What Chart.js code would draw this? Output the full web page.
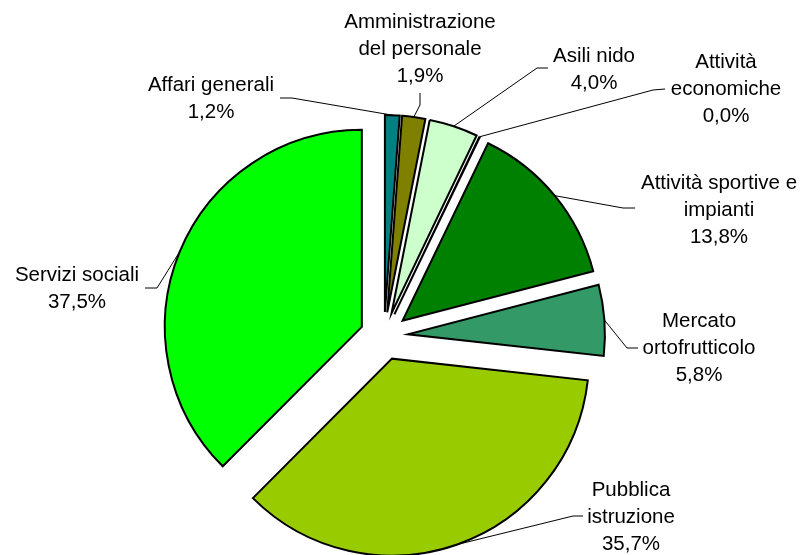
<!DOCTYPE html>
<html>
<head>
<meta charset="utf-8">
<script src="https://cdn.jsdelivr.net/npm/chart.js@4"></script>
<style>
  html, body { margin: 0; padding: 0; background: #fff; }
  #wrap { width: 805px; height: 555px; position: relative; }
</style>
</head>
<body>
<div id="wrap"><canvas id="pieChart" width="805" height="555"></canvas></div>
<script>
// dati (percentuali)
const categories = [
    'Affari generali',
    'Amministrazione del personale',
    'Asili nido',
    'Attività economiche',
    'Attività sportive e impianti',
    'Mercato ortofrutticolo',
    'Pubblica istruzione',
    'Servizi sociali'
];
const values = [1.2, 1.9, 4.0, 0.04, 13.8, 5.8, 35.7, 37.5];

// righe delle etichette, come appaiono nel grafico
const labelLines = [
    ['Affari generali'],
    ['Amministrazione', 'del personale'],
    ['Asili nido'],
    ['Attività', 'economiche'],
    ['Attività sportive e', 'impianti'],
    ['Mercato', 'ortofrutticolo'],
    ['Pubblica', 'istruzione'],
    ['Servizi sociali']
];

const colors = ['#008080', '#808000', '#CCFFCC', '#CCFFFF', '#008000', '#339966', '#99CC00', '#00FF00'];

// posizione etichette: centro testo x, baseline prima riga, gomito e fine della linea guida
const labelLayout = [
    { x: 211, y: 91,  elbow: [292, 98],  end: [280, 98] },
    { x: 420, y: 28,  elbow: [420, 105], end: [420, 93] },
    { x: 594, y: 62,  elbow: [537, 68],  end: [548, 68] },
    { x: 726, y: 68,  elbow: [653, 90],  end: [665, 89] },
    { x: 719, y: 189, elbow: [623, 208], end: [635, 208] },
    { x: 699, y: 327, elbow: [627, 348], end: [638, 348] },
    { x: 631, y: 496, elbow: [573, 516], end: [583, 516] },
    { x: 77,  y: 281, elbow: [157, 288], end: [145, 288] }
];

const EXPLODE = 24;     // distacco delle fette, in px
const LINE_H = 27;
const FONT = '20.5px "Liberation Sans", Arial, sans-serif';

// fette esplose: spostamento fisso lungo la bisettrice (senza la correzione del raggio di Chart.js)
const baseArcDraw = Chart.ArcElement.prototype.draw;
Chart.ArcElement.prototype.draw = function(ctx) {
    const mid = (this.startAngle + this.endAngle) / 2;
    ctx.save();
    ctx.translate(Math.cos(mid) * EXPLODE, Math.sin(mid) * EXPLODE);
    baseArcDraw.call(this, ctx);
    ctx.restore();
};

function fmtPct(v) {
    return v.toFixed(1).replace('.', ',') + '%';
}

const labelsPlugin = {
    id: 'excelLabels',
    afterDatasetsDraw(chart) {
        const ctx = chart.ctx;
        const meta = chart.getDatasetMeta(0);
        ctx.save();
        meta.data.forEach((arc, i) => {
            const p = arc.getProps(['x', 'y', 'startAngle', 'endAngle', 'outerRadius'], true);
            const mid = (p.startAngle + p.endAngle) / 2;
            const ax = p.x + Math.cos(mid) * (EXPLODE + p.outerRadius);
            const ay = p.y + Math.sin(mid) * (EXPLODE + p.outerRadius);
            const lay = labelLayout[i];

            ctx.strokeStyle = '#000';
            ctx.lineWidth = 1;
            ctx.beginPath();
            ctx.moveTo(lay.end[0], lay.end[1]);
            ctx.lineTo(lay.elbow[0], lay.elbow[1]);
            ctx.lineTo(ax, ay);
            ctx.stroke();

            ctx.fillStyle = '#000';
            ctx.font = FONT;
            ctx.textAlign = 'center';
            ctx.textBaseline = 'alphabetic';
            const lines = labelLines[i].concat([fmtPct(values[i])]);
            lines.forEach((t, k) => ctx.fillText(t, lay.x, lay.y + k * LINE_H));
        });
        ctx.restore();
    }
};

new Chart(document.getElementById('pieChart'), {
    type: 'pie',
    data: {
        labels: categories,
        datasets: [{
            data: values,
            backgroundColor: colors,
            borderColor: '#000',
            borderWidth: 2,
            borderJoinStyle: 'miter'
        }]
    },
    options: {
        responsive: false,
        animation: false,
        radius: 197,
        layout: { padding: { left: 0, right: 37, top: 117, bottom: 0 } },
        plugins: {
            legend: { display: false },
            tooltip: { enabled: false }
        }
    },
    plugins: [labelsPlugin]
});
</script>
</body>
</html>
